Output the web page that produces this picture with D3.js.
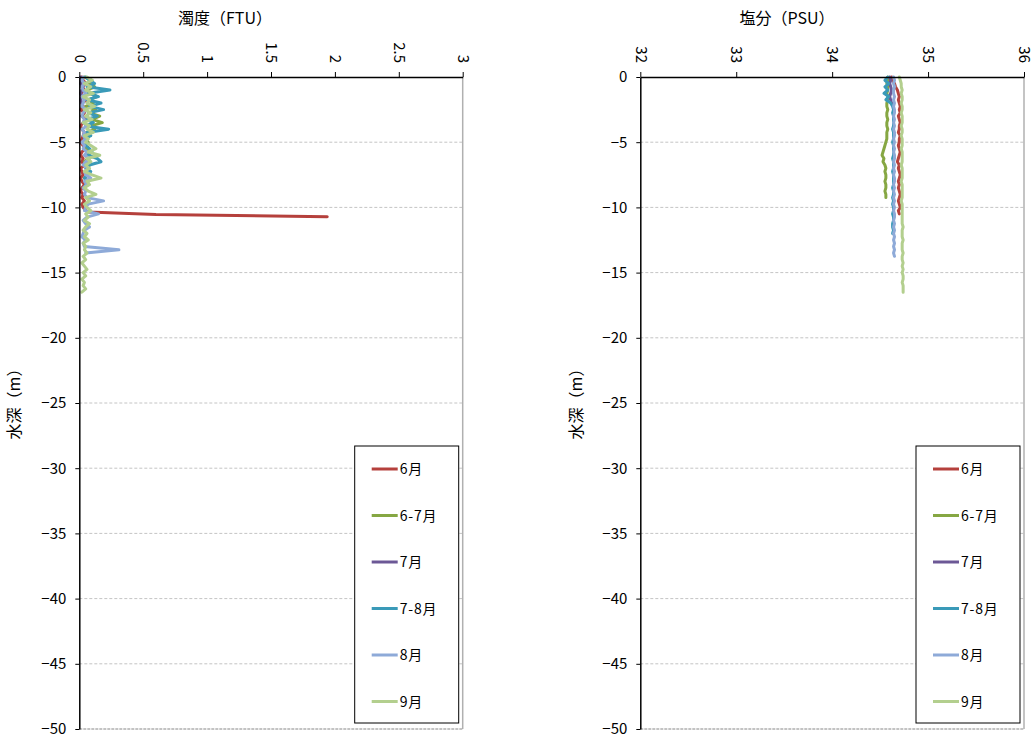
<!DOCTYPE html>
<html>
<head>
<meta charset="utf-8">
<script src="https://cdn.jsdelivr.net/npm/d3@7"></script>
<style>
  body { margin: 0; background: #fff; }
  text { font-family: "Noto Sans CJK JP", "Noto Sans", sans-serif; fill: #000; }
</style>
</head>
<body>
<svg id="chart" width="1036" height="742"></svg>
<script>
// Sampling depths (m), shared by every cast
const depths = [0,-0.25,-0.5,-0.75,-1,-1.25,-1.5,-1.75,-2,-2.25,-2.5,-2.75,-3,-3.25,-3.5,-3.75,
  -4,-4.25,-4.5,-4.75,-5,-5.25,-5.5,-5.75,-6,-6.25,-6.5,-6.75,-7,-7.25,-7.5,-7.75,
  -8,-8.25,-8.5,-8.75,-9,-9.25,-9.5,-9.75,-10,-10.25,-10.5,-10.75,-11,-11.25,-11.5,-11.75,
  -12,-12.25,-12.5,-12.75,-13,-13.25,-13.5,-13.75,-14,-14.25,-14.5,-14.75,-15,-15.25,-15.5,-15.75,
  -16,-16.25,-16.5];

const seriesNames = ["6月", "6-7月", "7月", "7-8月", "8月", "9月"];
const seriesColors = ["#b5403c", "#86a743", "#6c5896", "#3a9ab8", "#8eaad8", "#b3cf8e"];

// Turbidity (FTU) per cast
const ftu6 = [0.02,0.03,0.05,0.02,0.04,0.01,0.03,0.06,0.02,0.03,0.01,0.04,0.02,0.05,0.03,0.01,
  0.02,0.04,0.03,0.02,0.01,0.03,0.05,0.02,0.01,0.03,0.02,0.04,0.01,0.02,0.03,0.01,
  0.02,0.04,0.02,0.01,0.03,0.02,0.04,0.02,0.03,0.05];
// bottom spike of the June cast
const ftu6BottomDepth = [-10.35, -10.55, -10.72];
const ftu6BottomValue = [0.07, 0.6, 1.94];
const ftu67 = [0.04,0.10,0.08,0.12,0.06,0.09,0.14,0.07,0.11,0.05,0.13,0.08,0.16,0.10,0.18,0.09,
  0.12,0.06,0.08,0.05,0.07,0.04,0.06,0.09,0.05,0.07,0.04,0.08,0.06,0.05,0.07,0.04,0.06];
const ftu7 = [0.01,0.02,0.01,0.03,0.02,0.01,0.02,0.01,0.02];
const ftu78 = [0.05,0.08,0.12,0.06,0.24,0.07,0.15,0.06,0.17,0.08,0.19,0.07,0.14,0.06,0.11,0.05,
  0.23,0.06,0.09,0.04,0.06,0.05,0.08,0.10,0.07,0.14,0.17,0.08,0.05,0.09,0.06,0.04,
  0.07,0.05,0.04];
const ftu8 = [0.03,0.02,0.04,0.02,0.03,0.05,0.02,0.04,0.03,0.02,0.05,0.03,0.02,0.04,0.03,0.06,
  0.02,0.04,0.03,0.05,0.02,0.04,0.03,0.06,0.04,0.08,0.05,0.03,0.07,0.04,0.05,0.09,
  0.04,0.06,0.03,0.05,0.04,0.06,0.19,0.07,0.05,0.04,0.15,0.06,0.03,0.05,0.08,0.04,
  0.03,0.02,0.05,0.03,0.04,0.31,0.05];
const ftu9 = [0.06,0.10,0.04,0.09,0.05,0.11,0.03,0.08,0.06,0.12,0.04,0.09,0.05,0.10,0.03,0.08,
  0.06,0.11,0.04,0.07,0.05,0.09,0.13,0.07,0.16,0.06,0.09,0.05,0.08,0.04,0.10,0.17,
  0.06,0.08,0.04,0.07,0.13,0.05,0.08,0.04,0.06,0.09,0.05,0.07,0.04,0.08,0.05,0.03,
  0.06,0.04,0.07,0.03,0.05,0.04,0.06,0.03,0.05,0.02,0.04,0.06,0.03,0.05,0.02,0.04,
  0.03,0.05,0.02];

// Salinity (PSU) per cast
const psu6 = [34.62,34.63,34.65,34.66,34.68,34.69,34.70,34.69,34.70,34.71,34.70,34.71,34.69,34.70,34.71,34.70,
  34.70,34.69,34.71,34.70,34.70,34.69,34.70,34.71,34.70,34.69,34.68,34.70,34.69,34.70,34.71,34.70,
  34.69,34.70,34.69,34.70,34.71,34.70,34.69,34.70,34.71,34.69,34.70];
const psu67 = [34.58,34.58,34.57,34.58,34.58,34.57,34.58,34.58,34.57,34.57,34.58,34.57,34.57,34.58,34.57,34.57,
  34.58,34.57,34.57,34.57,34.56,34.55,34.54,34.53,34.52,34.54,34.53,34.55,34.56,34.55,34.56,34.56,
  34.55,34.56,34.56,34.55,34.56,34.56];
const psu7 = [34.60,34.61,34.60,34.61,34.62,34.61,34.60,34.61,34.62];
const psu78 = [34.58,34.55,34.59,34.55,34.58,34.54,34.59,34.56,34.61,34.63,34.64,34.63,34.64,34.64,34.64,34.64,
  34.63,34.64,34.64,34.64,34.63,34.64,34.64,34.64,34.64,34.63,34.64,34.64,34.64,34.63,34.64,34.64,
  34.64,34.64,34.63,34.64,34.64,34.63,34.64,34.63,34.64,34.64,34.63,34.64,34.64,34.63,34.63,34.64,34.63];
const psu8 = [34.64,34.65,34.64,34.65,34.64,34.64,34.65,34.64,34.65,34.64,34.65,34.65,34.64,34.65,34.64,34.65,
  34.64,34.65,34.65,34.64,34.65,34.64,34.65,34.64,34.65,34.65,34.64,34.65,34.64,34.65,34.64,34.65,
  34.65,34.64,34.65,34.64,34.65,34.64,34.65,34.64,34.65,34.64,34.65,34.65,34.64,34.65,34.64,34.65,
  34.64,34.65,34.64,34.65,34.64,34.65,34.64,34.65];
const psu9 = [34.70,34.71,34.72,34.72,34.73,34.72,34.73,34.73,34.72,34.73,34.73,34.72,34.73,34.73,34.73,34.72,
  34.73,34.73,34.72,34.73,34.73,34.73,34.72,34.73,34.73,34.73,34.73,34.72,34.73,34.73,34.73,34.73,
  34.72,34.73,34.73,34.73,34.73,34.73,34.72,34.73,34.73,34.73,34.73,34.73,34.73,34.73,34.74,34.73,
  34.73,34.73,34.74,34.73,34.73,34.73,34.74,34.73,34.73,34.74,34.73,34.74,34.73,34.74,34.74,34.73,
  34.74,34.74,34.74];

const ftuTicks = [0, 0.5, 1, 1.5, 2, 2.5, 3];
const psuTicks = [32, 33, 34, 35, 36];
const depthTicks = [0, -5, -10, -15, -20, -25, -30, -35, -40, -45, -50];

function toPoints(values, extraDepth, extraValue) {
  const pts = values.map((v, i) => [depths[i], v]);
  if (extraDepth) extraDepth.forEach((d, i) => pts.push([d, extraValue[i]]));
  return pts;
}

const ftuSeries = [
  toPoints(ftu6, ftu6BottomDepth, ftu6BottomValue),
  toPoints(ftu67), toPoints(ftu7), toPoints(ftu78), toPoints(ftu8), toPoints(ftu9)
];
const psuSeries = [psu6, psu67, psu7, psu78, psu8, psu9].map(v => toPoints(v));

const svg = d3.select("#chart");
const plotTop = 77, plotBottom = 729;

function panel(opt) {
  const g = svg.append("g");
  const x = d3.scaleLinear().domain(opt.domain).range([opt.left, opt.right]);
  const y = d3.scaleLinear().domain([0, -50]).range([plotTop, plotBottom]);

  // horizontal gridlines
  g.append("g").selectAll("line").data(depthTicks.filter(d => d !== 0 && d !== -50)).join("line")
    .attr("x1", opt.left).attr("x2", opt.right)
    .attr("y1", d => y(d)).attr("y2", d => y(d))
    .attr("stroke", "#c4c4c4").attr("stroke-width", 1).attr("stroke-dasharray", "3,2");

  // right and bottom frame
  g.append("line").attr("x1", opt.right).attr("x2", opt.right).attr("y1", plotTop).attr("y2", plotBottom)
    .attr("stroke", "#b0b0b0").attr("stroke-width", 1.5);
  g.append("line").attr("x1", opt.left).attr("x2", opt.right).attr("y1", plotBottom).attr("y2", plotBottom)
    .attr("stroke", "#b0b0b0").attr("stroke-width", 1.5).attr("stroke-dasharray", "3,1");

  // profiles
  const line = d3.line().x(d => x(d[1])).y(d => y(d[0]));
  g.append("g").selectAll("path").data(opt.series).join("path")
    .attr("d", line)
    .attr("fill", "none")
    .attr("stroke", (d, i) => seriesColors[i])
    .attr("stroke-width", 3)
    .attr("stroke-linejoin", "round")
    .attr("stroke-linecap", "round");

  // top axis
  const ax = g.append("g").attr("transform", `translate(0,${plotTop})`)
    .call(d3.axisTop(x).tickValues(opt.ticks).tickSize(5).tickSizeOuter(0).tickFormat(opt.fmt));
  ax.select(".domain").attr("stroke", "#000").attr("stroke-width", 1.5);
  ax.selectAll(".tick line").attr("stroke", "#000");
  ax.selectAll(".tick text")
    .attr("font-size", 15)
    .attr("text-anchor", "end")
    .attr("y", 0).attr("dy", "0.35em")
    .attr("transform", "translate(0,-14) rotate(90)");

  // left axis
  const ay = g.append("g").attr("transform", `translate(${opt.left},0)`)
    .call(d3.axisLeft(y).tickValues(depthTicks).tickSize(4).tickSizeOuter(0).tickPadding(9)
      .tickFormat(d => d < 0 ? "\u2212" + Math.abs(d) : String(d)));
  ay.select(".domain").attr("stroke", "#000").attr("stroke-width", 1.5);
  ay.selectAll(".tick line").attr("stroke", "#000");
  ay.selectAll(".tick text").attr("font-size", 15);

  // titles
  g.append("text").attr("x", opt.titleX).attr("y", 24).attr("text-anchor", "middle")
    .attr("font-size", 16).text(opt.title);
  g.append("text").attr("transform", `translate(${opt.yTitleX},400) rotate(-90)`)
    .attr("text-anchor", "middle").attr("font-size", 16).text("水深（m）");

  // legend
  const lx = opt.right - 108, ly = 446;
  const lg = g.append("g");
  lg.append("rect").attr("x", lx).attr("y", ly).attr("width", 104).attr("height", 277)
    .attr("fill", "#fff").attr("stroke", "#000").attr("stroke-width", 1);
  const items = lg.selectAll("g").data(seriesNames).join("g")
    .attr("transform", (d, i) => `translate(${lx},${ly + 23 + i * 46.5})`);
  items.append("line").attr("x1", 17).attr("x2", 43).attr("y1", 0).attr("y2", 0)
    .attr("stroke", (d, i) => seriesColors[i]).attr("stroke-width", 3);
  items.append("text").attr("x", 45).attr("y", 0).attr("dy", "0.38em")
    .attr("font-size", 14).attr("letter-spacing", 0.8).text(d => d);
}

panel({
  left: 79.3, right: 462.7, domain: [0, 3], ticks: ftuTicks,
  fmt: d => String(d), series: ftuSeries,
  title: "濁度（FTU）", titleX: 225, yTitleX: 20
});
panel({
  left: 640.3, right: 1024, domain: [32, 36], ticks: psuTicks,
  fmt: d => String(d), series: psuSeries,
  title: "塩分（PSU）", titleX: 787, yTitleX: 582
});
</script>
</body>
</html>
